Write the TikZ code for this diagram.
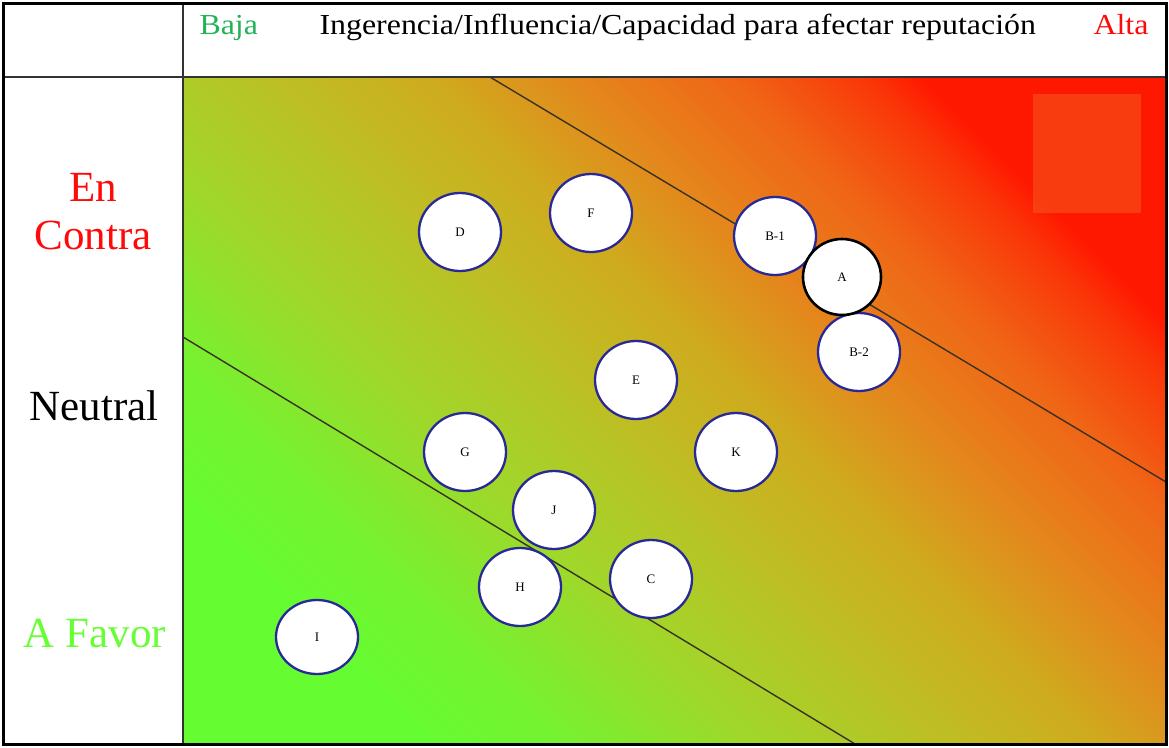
\documentclass[tikz,border=0pt]{standalone}
\usepackage{fontspec}
\setmainfont{Liberation Serif}
\newfontfamily\anchafont[FakeStretch=1.1]{Liberation Serif}
\usepackage{xcolor}
\usetikzlibrary{positioning, shapes.geometric}
\definecolor{BajaGreen}{RGB}{34, 178, 88}
\definecolor{AltaRed}{RGB}{255, 10, 10}
\definecolor{FavorGreen}{RGB}{102, 255, 51}
\definecolor{RingBlue}{RGB}{40, 40, 150}
\definecolor{DivLine}{RGB}{55, 50, 35}
\definecolor{MarkSquare}{RGB}{244, 90, 30}
\definecolor{GrA}{RGB}{102, 252, 50}
\definecolor{GrB}{RGB}{118, 242, 48}
\definecolor{GrC}{RGB}{160, 215, 42}
\definecolor{GrD}{RGB}{190, 190, 36}
\definecolor{GrE}{RGB}{208, 170, 30}
\definecolor{GrF}{RGB}{228, 135, 28}
\definecolor{GrG}{RGB}{240, 100, 22}
\definecolor{GrH}{RGB}{250, 55, 8}
\definecolor{GrI}{RGB}{255, 24, 0}
\pgfdeclarehorizontalshading{reputacion}{100bp}{color(0bp)=(GrA); color(25bp)=(GrA);
  color(31bp)=(GrB); color(39bp)=(GrC); color(47.5bp)=(GrD); color(54bp)=(GrE);
  color(60bp)=(GrF); color(67bp)=(GrG); color(72.5bp)=(GrH);
  color(75bp)=(GrI); color(100bp)=(GrI)}
\tikzset{
  actor/.style={ellipse, draw=RingBlue, line width=2.3pt, fill=white,
    minimum width=82, minimum height=78, inner sep=0pt,
    font=\fontsize{13}{13}\selectfont},
  postura/.style={align=center, font=\fontsize{43}{48}\selectfont},
  cabecera/.style={anchor=base west, font=\anchafont\fontsize{29}{29}\selectfont}
}
\begin{document}
\begin{tikzpicture}[x=1pt, y=-1pt]
  \useasboundingbox (0,0) rectangle (1169,747);
  % mapa de fondo
  \shade[shading=reputacion, shading angle=45] (183,77) rectangle (1166,744);
  \fill[MarkSquare, opacity=0.55] (1033,94) rectangle (1141,213);
  % limites entre zonas
  \coordinate (lineaA1) at (490,77);
  \coordinate (lineaA2) at (1166,482);
  \coordinate (lineaB1) at (183,337);
  \coordinate (lineaB2) at (855,744);
  \draw[DivLine, line width=1.4pt] (lineaA1) -- (lineaA2);
  \draw[DivLine, line width=1.4pt] (lineaB1) -- (lineaB2);
  % marco
  \draw[black!80, line width=1.4pt] (3,77) -- (1166,77);
  \draw[black!80, line width=1.4pt] (183,3) -- (183,744);
  \draw[black, line width=3pt] (3,3) rectangle (1166,744);
  % cabecera
  \node[cabecera, text=BajaGreen] (baja) at (196,34) {Baja};
  \node[cabecera] (eje) at (316,34) {Ingerencia/Influencia/Capacidad para afectar reputación};
  \node[cabecera, text=AltaRed] (alta) at (1090,34) {Alta};
  % posturas
  \node[postura, text=AltaRed] (contra) at (93,212) {En\\Contra};
  \node[postura] (neutral) at (94,406) {Neutral};
  \node[postura, text=FavorGreen] (favor) at (95,634) {A Favor};
  % actores
  \node[actor] (D) at (460,232) {D};
  \node[actor] (F) at (591,213) {F};
  \node[actor] (B1) at (775,236) {B-1};
  \node[actor] (B2) at (859,352) {B-2};
  \node[actor, draw=black, line width=2.6pt, minimum width=78, minimum height=76] (A) at (842,277) {A};
  \node[actor] (E) at (636,380) {E};
  \node[actor] (G) at (465,452) {G};
  \node[actor] (K) at (736,452) {K};
  \node[actor] (J) at (554,510) {J};
  \node[actor] (H) at (520,587) {H};
  \node[actor] (C) at (651,579) {C};
  \node[actor, minimum height=74] (I) at (317,637) {I};
\end{tikzpicture}
\end{document}
